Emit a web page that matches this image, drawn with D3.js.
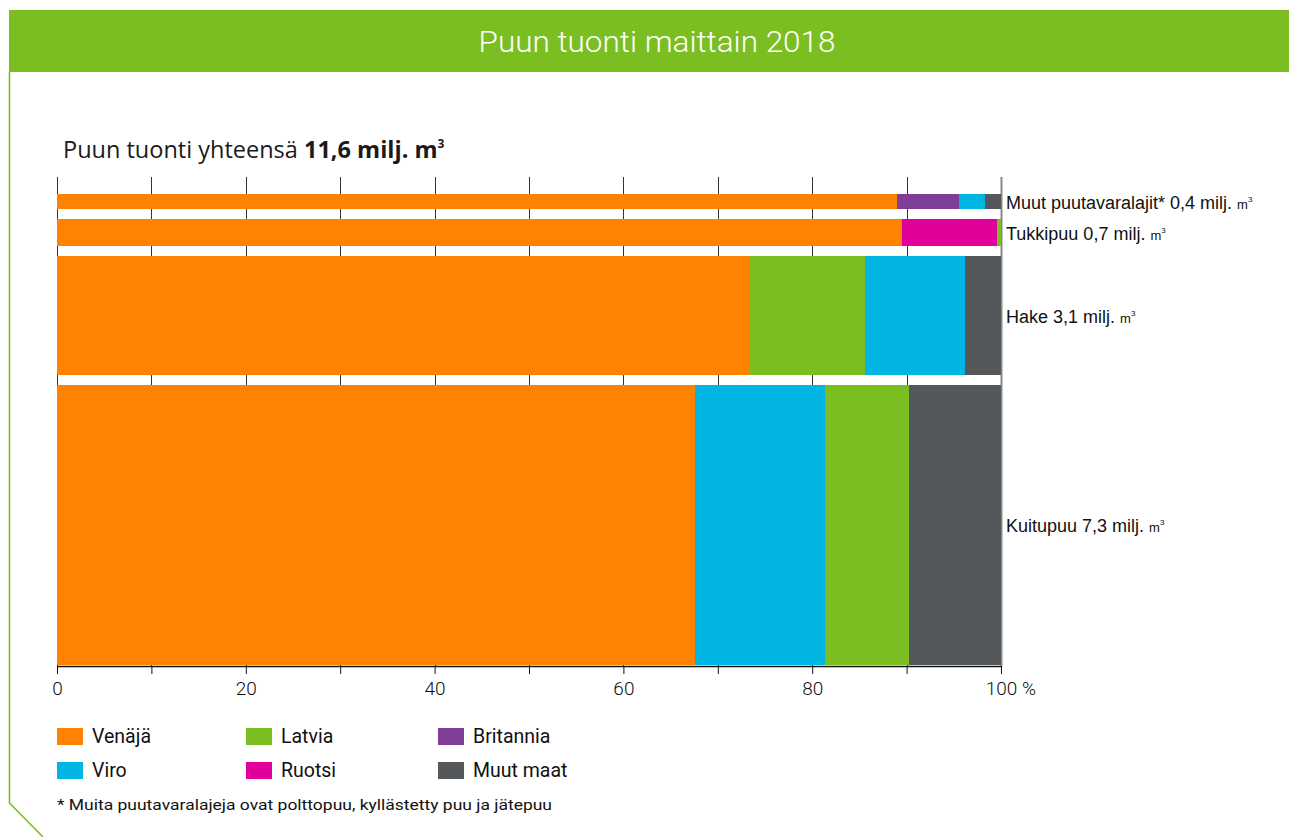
<!DOCTYPE html>
<html>
<head>
<meta charset="utf-8">
<script src="https://cdn.jsdelivr.net/npm/d3@7"></script>
<style>
  html, body { margin: 0; padding: 0; background: #fff; }
  svg { display: block; }
</style>
</head>
<body>
<svg id="chart" width="1289" height="837"></svg>
<script>
// ---- data ----
const categories = ["Muut puutavaralajit*", "Tukkipuu", "Hake", "Kuitupuu"];
const volumes = [0.4, 0.7, 3.1, 7.3];            // milj. m³
const volumeLabels = ["0,4", "0,7", "3,1", "7,3"];
const countries = ["Venäjä", "Latvia", "Britannia", "Viro", "Ruotsi", "Muut maat"];
const colors = ["#FF8300", "#7BBE22", "#7F3F98", "#00B5E2", "#E2009A", "#54585A"];
// share (%) per category, in category order
const venaja    = [89.0, 89.5, 73.3, 67.6];
const latvia    = [0,    0.4,  12.3, 8.9];
const britannia = [6.6,  0,    0,    0];
const viro      = [2.7,  0,    10.6, 13.8];
const ruotsi    = [0,    10.1, 0,    0];
const muut      = [1.7,  0,    3.8,  9.7];
// stacking order of segments inside each bar
const segmentOrder = [
  ["Venäjä", "Britannia", "Viro", "Muut maat"],
  ["Venäjä", "Ruotsi", "Latvia"],
  ["Venäjä", "Latvia", "Viro", "Muut maat"],
  ["Venäjä", "Viro", "Latvia", "Muut maat"]
];
const xTicks = [0, 10, 20, 30, 40, 50, 60, 70, 80, 90, 100];
const xTickLabels = ["0", "", "20", "", "40", "", "60", "", "80", "", "100"];
const title = "Puun tuonti maittain 2018";
const footnote = "* Muita puutavaralajeja ovat polttopuu, kyllästetty puu ja jätepuu";

const seriesValues = {
  "Venäjä": venaja, "Latvia": latvia, "Britannia": britannia,
  "Viro": viro, "Ruotsi": ruotsi, "Muut maat": muut
};
const color = d3.scaleOrdinal().domain(countries).range(colors);

const svg = d3.select("#chart");
const green = "#7BBE22";
const font = "Roboto, 'Noto Sans', sans-serif";

// ---- frame ----
svg.append("rect").attr("x", 9).attr("y", 10).attr("width", 1280).attr("height", 62).attr("fill", green);
svg.append("path")
  .attr("d", "M9.5,72 L9.5,803 L43,837")
  .attr("fill", "none").attr("stroke", green).attr("stroke-width", 1.6);
svg.append("text").attr("x", 657).attr("y", 52)
  .attr("text-anchor", "middle").attr("fill", "#fff")
  .attr("font-family", font).attr("font-weight", 300).attr("font-size", 30)
  .attr("textLength", 357).attr("lengthAdjust", "spacingAndGlyphs")
  .text(title);

// subtitle
const sub = svg.append("text").attr("x", 63).attr("y", 158)
  .attr("font-family", "'Open Sans', Roboto, sans-serif").attr("font-size", 23.5).attr("fill", "#1a1a1a");
sub.append("tspan").text("Puun tuonti yhteensä ");
sub.append("tspan").attr("font-weight", 700).text("11,6 milj. m");
sub.append("tspan").attr("font-weight", 700).attr("font-size", 12).attr("dy", -10).text("3");

// ---- scales ----
const x0 = 57, x1 = 1001;
const x = d3.scaleLinear().domain([0, 100]).range([x0, x1]);
const barTop = 194, gap = 10, axisY = 666, gridTop = 177;
const totalBarHeight = axisY - 1 - barTop - gap * (categories.length - 1);
const h = d3.scaleLinear().domain([0, d3.sum(volumes)]).range([0, totalBarHeight]);

const bars = [];
let yCursor = barTop;
categories.forEach((c, i) => {
  const height = h(volumes[i]);
  bars.push({ cat: c, i, y: yCursor, height });
  yCursor += height + gap;
});

// ---- gridlines ----
svg.append("g").selectAll("line").data(xTicks).join("line")
  .attr("x1", d => Math.round(x(d)) + 0.5).attr("x2", d => Math.round(x(d)) + 0.5)
  .attr("y1", gridTop).attr("y2", axisY)
  .attr("stroke", d => d === 100 ? "#888" : "#333")
  .attr("stroke-width", d => d === 100 ? 2 : 1);

// ---- bars ----
const barG = svg.append("g");
bars.forEach(b => {
  let acc = 0;
  const segs = segmentOrder[b.i].map(k => {
    const v = seriesValues[k][b.i];
    const s = { key: k, start: acc, end: acc + v };
    acc += v;
    return s;
  });
  barG.append("g").selectAll("rect").data(segs).join("rect")
    .attr("x", d => x(d.start))
    .attr("width", d => x(d.end) - x(d.start))
    .attr("y", b.y).attr("height", b.height)
    .attr("fill", d => color(d.key))
    .attr("shape-rendering", "crispEdges");

  // right-side label
  const t = svg.append("text")
    .attr("x", x1 + 5).attr("y", b.y + b.height / 2 + 7)
    .attr("font-family", "'Liberation Sans', Arial, sans-serif")
    .attr("font-size", 18).attr("fill", "#111");
  t.append("tspan").text(`${b.cat} ${volumeLabels[b.i]} milj. `);
  t.append("tspan").attr("font-size", 13).text("m");
  t.append("tspan").attr("font-size", 8).attr("dy", -7).text("3");
});

// ---- x axis ----
const axis = d3.axisBottom(x).tickValues(xTicks).tickSize(8).tickPadding(8)
  .tickFormat((d, i) => xTickLabels[i]);
const ax = svg.append("g").attr("transform", `translate(0,${axisY})`).call(axis);
ax.select(".domain").attr("stroke", "#111").attr("stroke-width", 1.5).attr("d", `M${x0},0.5H${x1}`);
ax.selectAll(".tick line").attr("stroke", "#111");
ax.selectAll(".tick text").attr("font-family", font).attr("font-size", 19).attr("fill", "#111").attr("font-weight", 300);
// "100 %" : keep the number centred on its tick
ax.selectAll(".tick text").filter(d => d === 100).each(function() {
  const w = this.getComputedTextLength();
  d3.select(this).attr("text-anchor", "start").attr("x", -w / 2).text("100 %");
});

// ---- legend ----
const legendCols = [57, 246, 438];
const legendRows = [728, 762];
const legendLayout = ["Venäjä", "Latvia", "Britannia", "Viro", "Ruotsi", "Muut maat"];
const lg = svg.append("g").selectAll("g").data(legendLayout).join("g")
  .attr("transform", (d, i) => `translate(${legendCols[i % 3]},${legendRows[Math.floor(i / 3)]})`);
lg.append("rect").attr("width", 26).attr("height", 17).attr("fill", d => color(d));
lg.append("text").attr("x", 35).attr("y", 15)
  .attr("font-family", font).attr("font-size", 19.5).attr("fill", "#111")
  .text(d => d);

// ---- footnote ----
svg.append("text").attr("x", 57).attr("y", 810)
  .attr("font-family", font).attr("font-size", 15.5).attr("fill", "#111")
  .attr("textLength", 495).attr("lengthAdjust", "spacingAndGlyphs")
  .text(footnote);
</script>
</body>
</html>
